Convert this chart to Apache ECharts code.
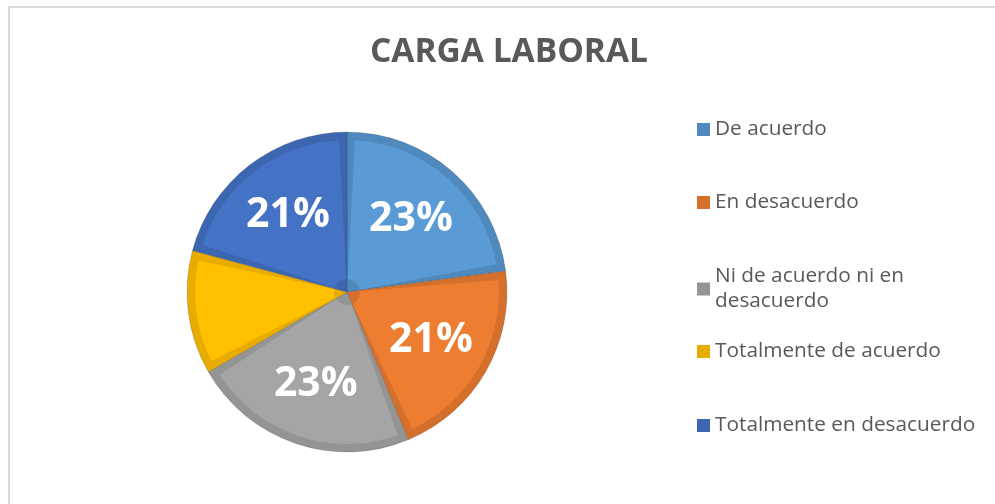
<!DOCTYPE html>
<html>
<head>
<meta charset="utf-8">
<script src="https://cdn.jsdelivr.net/npm/echarts@6/dist/echarts.min.js"></script>
<style>
  html, body { margin: 0; padding: 0; background: #fff; }
  #chart { width: 995px; height: 504px; }
</style>
</head>
<body>
<div id="chart"></div>
<script>
const categories = ['De acuerdo', 'En desacuerdo', 'Ni de acuerdo ni en desacuerdo', 'Totalmente de acuerdo', 'Totalmente en desacuerdo']
const values = [11, 10, 11, 6, 10]
const showLabel = [true, true, true, false, true]
const fillColors = ['#5b9bd5', '#ed7d31', '#a5a5a5', '#ffc000', '#4472c4']
const edgeColors = ['#4f89bd', '#d46f2c', '#949494', '#e6ac00', '#3c66b0']
const legendTops = [112, 185, 259, 334, 408]

const center = [347, 292]
const font = '"Open Sans", "Noto Sans", sans-serif'

const chart = echarts.init(document.getElementById('chart'))

const legends = categories.map((name, i) => ({
  data: [name],
  left: 692,
  top: legendTops[i],
  orient: 'vertical',
  icon: 'rect',
  itemWidth: 13,
  itemHeight: 13,
  selectedMode: false,
  itemStyle: { borderWidth: 0 },
  textStyle: {
    color: '#595959',
    fontSize: 20.8,
    fontFamily: font,
    width: 275,
    overflow: 'break',
    lineHeight: 25
  }
}))

const option = {
  backgroundColor: '#fff',
  animation: false,
  title: {
    text: 'CARGA LABORAL',
    left: 365,
    top: 30,
    textStyle: {
      color: '#595959',
      fontSize: 33.5,
      fontWeight: 'bold',
      fontFamily: font
    }
  },
  graphic: [{
    type: 'rect',
    shape: { x: 9, y: 7, width: 1000, height: 520 },
    style: { fill: 'none', stroke: '#d9d9d9', lineWidth: 2 },
    silent: true
  }],
  legend: legends,
  series: [
    {
      // darker bevel edge
      type: 'pie',
      center: center,
      radius: 160,
      startAngle: 90,
      silent: true,
      label: { show: false },
      labelLine: { show: false },
      itemStyle: { borderColor: 'rgba(40,40,40,0.3)', borderWidth: 0.6 },
      data: categories.map((name, i) => ({
        name: name,
        value: values[i],
        itemStyle: { color: edgeColors[i] }
      }))
    },
    {
      // lighter face
      type: 'pie',
      center: center,
      radius: [13, 152],
      startAngle: 90,
      padAngle: 6,
      silent: true,
      label: { show: false },
      labelLine: { show: false },
      data: categories.map((name, i) => ({
        name: name,
        value: values[i],
        itemStyle: { color: fillColors[i] }
      }))
    },
    {
      // percentage labels
      type: 'pie',
      center: center,
      radius: [28, 160],
      startAngle: 90,
      silent: true,
      percentPrecision: 0,
      itemStyle: { color: 'rgba(0,0,0,0)' },
      labelLine: { show: false },
      label: {
        position: 'inside',
        formatter: '{d}%',
        color: '#fff',
        fontSize: 41,
        fontWeight: 'bold',
        fontFamily: font
      },
      data: categories.map((name, i) => ({
        name: name,
        value: values[i],
        label: { show: showLabel[i] }
      }))
    }
  ]
}

chart.setOption(option)
</script>
</body>
</html>
